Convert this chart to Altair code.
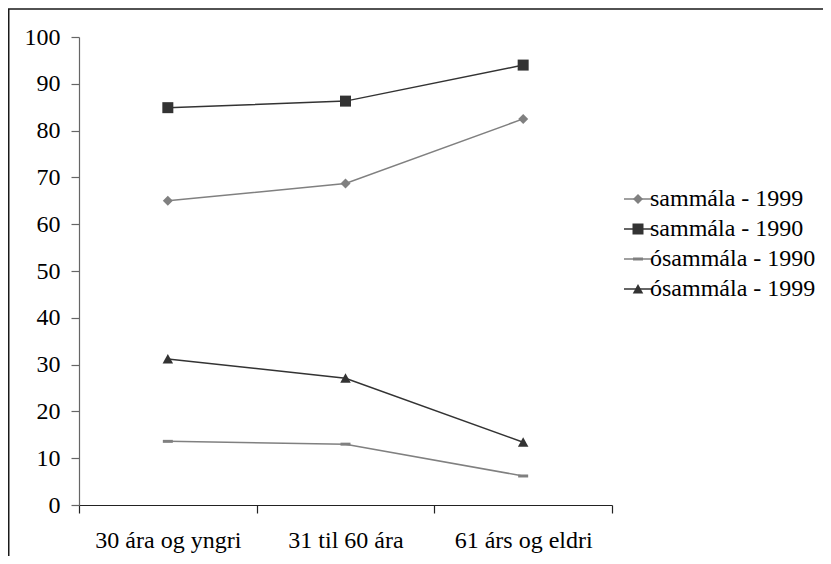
import altair as alt
import pandas as pd

categories = ["30 ára og yngri", "31 til 60 ára", "61 árs og eldri"]
series_names = ["sammála - 1999", "sammála - 1990", "ósammála - 1990", "ósammála - 1999"]
sammala_1999 = [65.0, 68.7, 82.5]
sammala_1990 = [84.9, 86.3, 94.0]
osammala_1990 = [13.6, 13.0, 6.2]
osammala_1999 = [31.2, 27.1, 13.4]
series_values = [sammala_1999, sammala_1990, osammala_1990, osammala_1999]
series_colors = ["#808080", "#333333", "#808080", "#333333"]
y_ticks = [0, 10, 20, 30, 40, 50, 60, 70, 80, 90, 100]

# marker shapes (unit radius = sqrt(size)/2)
marker_paths = [
    "M0,-1L1,0L0,1L-1,0Z",
    "M-1.1,-1.1H1.1V1.1H-1.1Z",
    "M-1,-0.3H1V0.3H-1Z",
    "M0,-1L1.05,0.9L-1.05,0.9Z",
]

rows = []
for name, vals in zip(series_names, series_values):
    for c, v in zip(categories, vals):
        rows.append({"group": c, "series": name, "series_b": name, "value": v})
df = pd.DataFrame(rows)

FONT = "'Liberation Serif', 'DejaVu Serif', 'Times New Roman', Times, serif"
LEG_X = 547
LEG_Y = 150

common_legend = dict(
    title=None,
    orient="none",
    legendX=LEG_X,
    legendY=LEG_Y,
    direction="vertical",
    symbolSize=100,
    labelFont=FONT,
    labelFontSize=24,
    labelOffset=0,
    labelLimit=400,
    rowPadding=6,
    padding=0,
)

x_enc = alt.X(
    "group:N",
    sort=categories,
    scale=alt.Scale(type="band", paddingInner=0, paddingOuter=0),
    axis=alt.Axis(
        title=None,
        labelAngle=0,
        tickBand="extent",
        tickSize=8,
        labelPadding=15,
        domainColor="#222222",
        tickColor="#222222",
        domainWidth=1.2,
        tickWidth=1.2,
        labelFont=FONT,
        labelFontSize=24,
        labelColor="black",
        grid=False,
    ),
)
y_enc = alt.Y(
    "value:Q",
    scale=alt.Scale(domain=[0, 100], nice=False),
    axis=alt.Axis(
        title=None,
        values=y_ticks,
        tickSize=8,
        labelPadding=11,
        domainColor="#666666",
        tickColor="#666666",
        domainWidth=1.2,
        tickWidth=1.2,
        labelFont=FONT,
        labelFontSize=24,
        labelColor="black",
        grid=False,
    ),
)

lines = alt.Chart(df).mark_line(strokeWidth=1.5).encode(
    x=x_enc,
    y=y_enc,
    color=alt.Color(
        "series:N",
        scale=alt.Scale(domain=series_names, range=series_colors),
        legend=alt.Legend(
            symbolType="M-2.8,0H2.8",
            symbolStrokeWidth=1.5,
            labelColor="black",
            **common_legend,
        ),
    ),
)

points = alt.Chart(df).mark_point(filled=True, size=100, opacity=1, strokeWidth=0).encode(
    x=x_enc,
    y=y_enc,
    fill=alt.Fill(
        "series_b:N",
        scale=alt.Scale(domain=series_names, range=series_colors),
        legend=alt.Legend(
            symbolStrokeWidth=0,
            symbolOpacity=1,
            labelColor="transparent",
            **common_legend,
        ),
    ),
    shape=alt.Shape(
        "series_b:N",
        scale=alt.Scale(domain=series_names, range=marker_paths),
        legend=alt.Legend(
            symbolStrokeWidth=0,
            symbolOpacity=1,
            labelColor="transparent",
            **common_legend,
        ),
    ),
)

border = alt.Chart(alt.Data(values=[{"k": 1}])).mark_rect(
    fillOpacity=0, stroke="#1a1a1a", strokeWidth=1.5
).encode(
    x=alt.value(-70.25), x2=alt.value(760), y=alt.value(-28), y2=alt.value(540)
)

chart = (
    alt.layer(border, lines, points)
    .resolve_scale(color="independent")
    .properties(
        width=533,
        height=468,
        autosize=alt.AutoSizeParams(type="none"),
        padding={"left": 71, "top": 29, "right": 211, "bottom": 51},
        background="white",
    )
    .configure(font=FONT)
    .configure_axis(labelFont=FONT)
    .configure_legend(labelFont=FONT)
    .configure_view(stroke=None)
)

chart.save("out.html", embed_options={"renderer": "svg", "actions": False})
